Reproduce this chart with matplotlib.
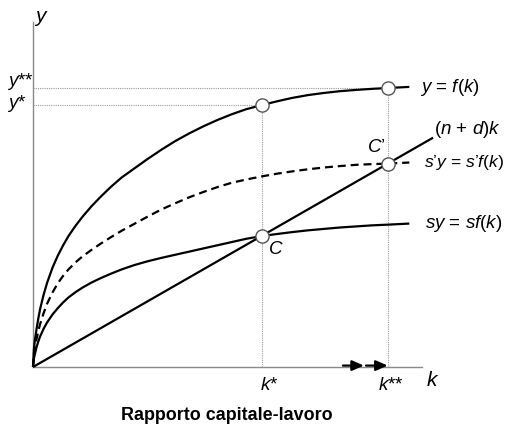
import matplotlib
matplotlib.use("Agg")
import matplotlib.pyplot as plt

# ---- data ----
k_grid = [0, 0.25, 0.5, 1, 1.5, 2, 3, 4, 5.5, 7, 8.5, 10, 12, 14, 16.5, 19, 22, 25, 28.5,
          32, 36, 40, 44, 48, 52, 56, 60, 64.5, 69, 73, 77.5, 82, 86.5, 91, 95.5, 100, 106]
f_vals = [0, 5.0, 7.3, 10.7, 13.7, 16.3, 20.4, 23.8, 28.0, 31.4, 34.3, 36.9, 39.8, 42.4,
          45.3, 47.9, 50.8, 53.4, 55.9, 58.4, 61.1, 63.6, 65.8, 67.8, 69.6, 71.2, 72.6,
          73.8, 74.9, 75.8, 76.6, 77.2, 77.7, 78.05, 78.35, 78.6, 78.9]
s2f_vals = [0, 3.7, 5.4, 7.9, 10.1, 12.1, 15.2, 17.9, 21.0, 23.6, 25.7, 27.5, 29.5, 31.2,
            33.0, 34.7, 36.6, 38.4, 40.3, 42.2, 44.3, 46.1, 47.8, 49.3, 50.7, 51.9, 52.8,
            53.7, 54.5, 55.1, 55.7, 56.2, 56.6, 56.95, 57.15, 57.3, 57.6]
sf_vals = [0, 2.4, 3.5, 5.6, 7.2, 8.6, 10.8, 12.6, 14.8, 16.6, 18.2, 19.6, 21.1, 22.4,
           23.8, 25.0, 26.3, 27.5, 28.7, 29.7, 30.7, 31.6, 32.5, 33.4, 34.3, 35.2, 36.1,
           36.9, 37.5, 38.0, 38.5, 38.9, 39.3, 39.6, 39.9, 40.1, 40.4]
line_k = [0, 112.7]
line_y = [0, 64.6]
k_star = 64.5
k_2star = 100
arrow_x = [[87.3, 93.2], [93.8, 99.9]]

labels = {
    "f": "$y$ = $f$($k$)",
    "line": "($n$ + $d$)$k$",
    "s2f": "$s$\u2019$y$ = $s$\u2019$f$($k$)",
    "sf": "$sy$ = $sf$($k$)",
}
xlabel = "Rapporto capitale-lavoro"

plt.rcParams['font.family'] = ['Liberation Sans', 'DejaVu Sans']
plt.rcParams['mathtext.fontset'] = 'custom'
plt.rcParams['mathtext.it'] = 'Liberation Sans:italic'
plt.rcParams['mathtext.rm'] = 'Liberation Sans'

W, H = 506, 425
fig = plt.figure(figsize=(W / 100, H / 100), dpi=100)
px = 3.55  # pixels per data unit
x0, y0 = 33, 367
ax_w, ax_h = 389, 345
ax = fig.add_axes([x0 / W, (H - y0) / H, ax_w / W, ax_h / H])
ax.set_xlim(0, ax_w / px)
ax.set_ylim(0, ax_h / px)
for s in ['top', 'right']:
    ax.spines[s].set_visible(False)
for s in ['left', 'bottom']:
    ax.spines[s].set_color('#8a8a8a')
    ax.spines[s].set_linewidth(1.0)
ax.set_xticks([])
ax.set_yticks([])

i_s = k_grid.index(k_star)
i_ss = k_grid.index(k_2star)
y_s = f_vals[i_s]
y_ss = f_vals[i_ss]

dot = dict(color='#9a9a9a', lw=0.8, ls=(0, (1, 1)), zorder=1)
ax.plot([0, k_star], [y_s, y_s], **dot)
ax.plot([0, k_2star], [y_ss, y_ss], **dot)
ax.plot([k_star, k_star], [0, y_s], **dot)
ax.plot([k_2star, k_2star], [0, y_ss], **dot)

cur = dict(color='black', lw=1.6, zorder=3, solid_capstyle='butt', solid_joinstyle='round',
           clip_on=False)
ax.plot(k_grid, f_vals, **cur)
ax.plot(k_grid, sf_vals, **cur)
ax.plot(k_grid, s2f_vals, color='black', lw=1.6, ls=(0, (3.6, 2.2)), zorder=3, clip_on=False)
ax.plot(line_k, line_y, **cur)

pts_k = [k_star, k_2star, k_star, k_2star]
pts_y = [y_s, y_ss, sf_vals[i_s], s2f_vals[i_ss]]
ax.plot(pts_k, pts_y, 'o', ms=9.5, mfc='white', mec='#555555', mew=1.0, zorder=5, clip_on=False)

for xa in arrow_x:
    ax.annotate('', xy=(xa[1], 0.4), xytext=(xa[0], 0.4),
                arrowprops=dict(arrowstyle='-|>,head_length=0.5,head_width=0.22',
                                color='black', lw=1.6,
                                mutation_scale=14, shrinkA=0, shrinkB=0),
                annotation_clip=False, zorder=6)

def P(xp, yp):
    return ((xp - x0) / px, (y0 - yp) / px)

fs = 13.5
tk = dict(fontsize=fs, clip_on=False)
ax.text(*P(420, 87), labels["f"], ha='left', va='center', **tk)
ax.text(*P(434, 130), labels["line"], ha='left', va='center', **tk)
ax.text(*P(504, 163), labels["s2f"], ha='right', va='center', fontsize=12.6, clip_on=False)
ax.text(*P(425, 224), labels["sf"], ha='left', va='center', **tk)
ax.text(*P(276, 250), "$C$", ha='center', va='center', **tk)
ax.text(*P(376, 148), "$C$\u2019", ha='center', va='center', **tk)
ax.text(*P(269, 385), "$k$*", ha='center', va='center', **tk)
ax.text(*P(391, 385), "$k$**", ha='center', va='center', **tk)
ax.text(*P(433, 381), "$k$", ha='center', va='center', fontsize=15, clip_on=False)
ax.text(*P(20, 82), "$y$**", ha='center', va='center', **tk)
ax.text(*P(17, 104), "$y$*", ha='center', va='center', **tk)
ax.text(*P(41, 18), "$y$", ha='center', va='center', fontsize=15, clip_on=False)
fig.text(227 / W, 1 - 415 / H, xlabel, ha='center', va='center',
         fontsize=12.9, fontweight='bold')

fig.savefig('out.png', dpi=100)
